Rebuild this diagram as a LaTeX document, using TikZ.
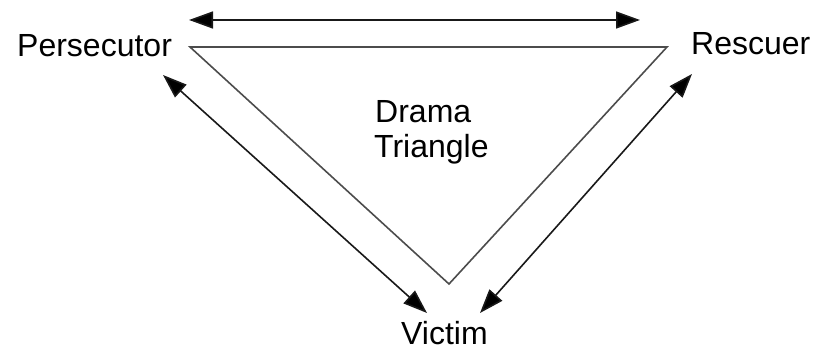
\documentclass[tikz,border=0pt]{standalone}
\usepackage{fontspec}
\setmainfont{Liberation Sans}
\usetikzlibrary{arrows.meta}
\begin{document}
\begin{tikzpicture}[x=1pt,y=1pt,
  lbl/.style={anchor=base west,inner sep=0pt,font=\fontsize{32}{36}\selectfont,text=black},
  dbl/.style={line width=1.6pt,draw=black!90,{Triangle[length=24pt,width=17pt,fill=black]}-{Triangle[length=24pt,width=17pt,fill=black]}},
  tri/.style={line width=1.6pt,draw=black!70,line join=miter}]
\useasboundingbox (0,0) rectangle (815,353);
\node[lbl] (pers) at (17,296) {Persecutor};
\node[lbl] (resc) at (691,298) {Rescuer};
\node[lbl] (vict) at (401,8) {Victim};
\node[lbl] (drama) at (375,230) {Drama};
\node[lbl] (trin) at (374,195) {Triangle};
\coordinate (tl) at (190,306);
\coordinate (tr) at (667,306);
\coordinate (bt) at (449,69);
\draw[tri] (tl) -- (tr) -- (bt) -- cycle;
\coordinate (ta) at (189,333);
\coordinate (tb) at (640,333);
\draw[dbl] (ta) -- (tb);
\coordinate (la) at (163,278);
\coordinate (lb) at (427,40);
\draw[dbl] (la) -- (lb);
\coordinate (ra) at (692,279);
\coordinate (rb) at (480,40);
\draw[dbl] (ra) -- (rb);
\end{tikzpicture}
\end{document}
